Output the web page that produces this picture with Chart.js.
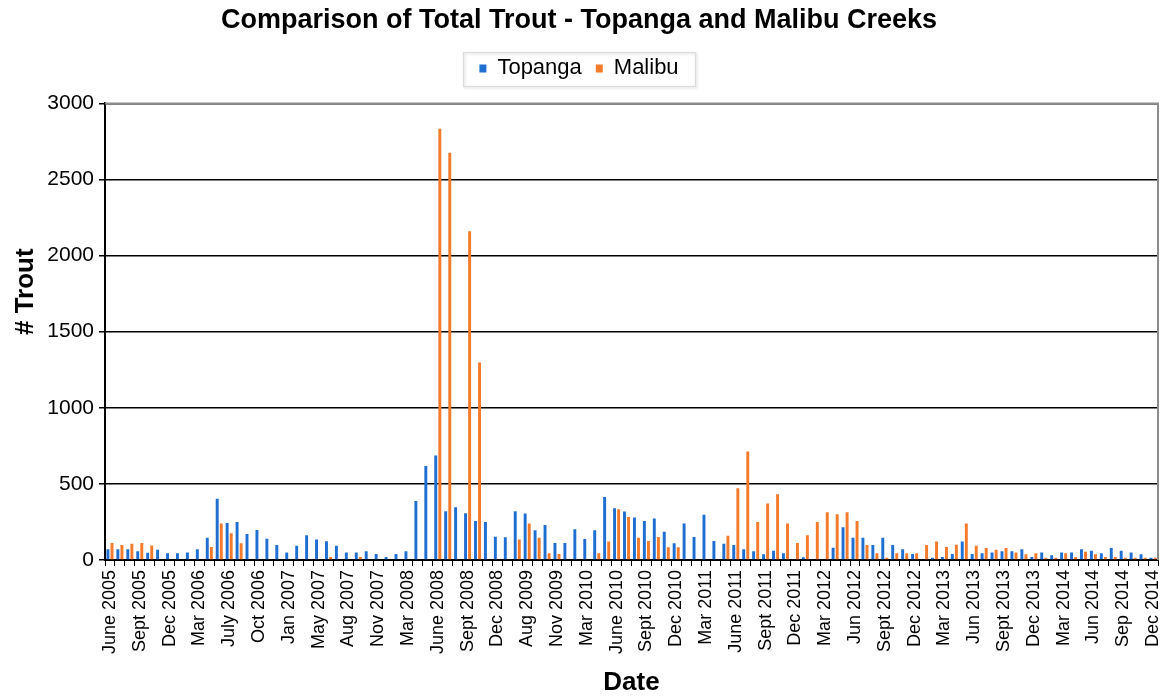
<!DOCTYPE html>
<html>
<head>
<meta charset="utf-8">
<script src="https://cdn.jsdelivr.net/npm/chart.js@4.4.1/dist/chart.umd.min.js"></script>
<style>
  html, body { margin: 0; padding: 0; background: #ffffff; }
  #wrap { width: 1166px; height: 698px; position: relative; }
</style>
</head>
<body>
<div id="wrap"><canvas id="c" width="1166" height="698"></canvas></div>
<script>
const categories = [
  "June 2005","July 2005","Aug 2005","Sept 2005","Oct 2005","Nov 2005",
  "Dec 2005","Jan 2006","Feb 2006","Mar 2006","Apr 2006","June 2006",
  "July 2006","Aug 2006","Sept 2006","Oct 2006","Nov 2006","Dec 2006",
  "Jan 2007","Feb 2007","Mar 2007","May 2007","June 2007","July 2007",
  "Aug 2007","Sept 2007","Oct 2007","Nov 2007","Dec 2007","Feb 2008",
  "Mar 2008","Apr 2008","May 2008","June 2008","July 2008","Aug 2008",
  "Sept 2008","Oct 2008","Nov 2008","Dec 2008","May 2009","June 2009",
  "Aug 2009","Sept 2009","Oct 2009","Nov 2009","Dec 2009","Feb 2010",
  "Mar 2010","Apr 2010","May 2010","June 2010","July 2010","Aug 2010",
  "Sept 2010","Oct 2010","Nov 2010","Dec 2010","Jan 2011","Feb 2011",
  "Mar 2011","Apr 2011","May 2011","June 2011","July 2011","Aug 2011",
  "Sept 2011","Oct 2011","Nov 2011","Dec 2011","Jan 2012","Feb 2012",
  "Mar 2012","Apr 2012","May 2012","Jun 2012","Jul 2012","Aug 2012",
  "Sept 2012","Oct 2012","Nov 2012","Dec 2012","Jan 2013","Feb 2013",
  "Mar 2013","Apr 2013","May 2013","Jun 2013","Jul 2013","Aug 2013",
  "Sept 2013","Oct 2013","Nov 2013","Dec 2013","Jan 2014","Feb 2014",
  "Mar 2014","Apr 2014","May 2014","Jun 2014","Jul 2014","Aug 2014",
  "Sep 2014","Oct 2014","Nov 2014","Dec 2014"
];

const topanga = [
  70, 70, 70, 57, 48, 68, 44, 44, 50, 70,
  147, 403, 243, 250, 171, 197, 140, 99, 50, 94,
  162, 134, 123, 94, 50, 50, 57, 39, 20, 39,
  57, 388, 618, 686, 320, 346, 307, 257, 250, 153,
  149, 320, 305, 195, 230, 112, 112, 202, 138, 195,
  414, 340, 318, 279, 257, 272, 186, 110, 239, 151,
  298, 125, 107, 99, 70, 57, 37, 61, 44, 0,
  18, 0, 5, 81, 215, 147, 147, 99, 147, 99,
  70, 39, 0, 15, 20, 39, 121, 39, 44, 50,
  57, 57, 70, 20, 50, 31, 50, 50, 70, 61,
  44, 79, 61, 50, 37, 15
];

const malibu = [
  112, 99, 107, 112, 96, 0, 0, 0, 0, 0,
  85, 239, 175, 110, 0, 0, 0, 0, 0, 0,
  0, 0, 20, 0, 0, 20, 0, 0, 0, 0,
  0, 0, 0, 2834, 2675, 0, 2160, 1298, 0, 0,
  0, 134, 239, 147, 44, 39, 0, 0, 0, 44,
  121, 333, 283, 147, 125, 151, 83, 83, 0, 0,
  0, 0, 160, 471, 713, 250, 371, 432, 239, 112,
  162, 250, 314, 300, 314, 257, 99, 44, 15, 44,
  44, 44, 99, 121, 85, 101, 239, 94, 79, 68,
  79, 50, 37, 44, 15, 15, 44, 20, 55, 37,
  20, 20, 15, 15, 15, 15
];

const yTicks = [0, 500, 1000, 1500, 2000, 2500, 3000];
const labelEvery = 3;

const FONT = "'Liberation Sans', Arial, sans-serif";

// empty spacer box between the legend and the plot area
const spacerPlugin = {
  id: 'spacer',
  beforeInit(chart) {
    const box = {
      position: 'top', weight: 500, fullSize: true,
      options: {},
      left: 0, top: 0, right: 0, bottom: 0, width: 0, height: 0,
      isHorizontal() { return true; },
      update(maxWidth) { this.width = maxWidth; this.height = 14; },
      draw() {}
    };
    Chart.layouts.addBox(chart, box);
  }
};

// y-axis title sits above the middle of the axis in the original
const yTitleShiftPlugin = {
  id: 'yTitleShift',
  afterLayout(chart) {
    const s = chart.scales.y;
    if (s._shiftWrapped) return;
    const orig = s.drawTitle;
    s.drawTitle = function() {
      const t = this.top;
      this.top = t - 80;
      orig.apply(this, arguments);
      this.top = t;
    };
    s._shiftWrapped = true;
  }
};

const legendBoxPlugin = {
  id: 'legendBox',
  afterDraw(chart) {
    const lg = chart.legend;
    if (!lg || !lg.legendHitBoxes || !lg.legendHitBoxes.length) return;
    let l = Infinity, r = -Infinity, t = Infinity, b = -Infinity;
    lg.legendHitBoxes.forEach(h => {
      l = Math.min(l, h.left); r = Math.max(r, h.left + h.width);
      t = Math.min(t, h.top); b = Math.max(b, h.top + h.height);
    });
    const ctx = chart.ctx;
    ctx.save();
    ctx.shadowColor = 'rgba(0,0,0,0.22)';
    ctx.shadowBlur = 3;
    ctx.shadowOffsetX = 1;
    ctx.shadowOffsetY = 1;
    ctx.strokeStyle = '#dcdcdc';
    ctx.lineWidth = 1;
    ctx.strokeRect(Math.round(l - 16) + 0.5, Math.round(t - 5) + 0.5, Math.round(r - l + 33), Math.round(b - t + 12));
    ctx.restore();
  }
};

const framePlugin = {
  id: 'frame',
  afterDatasetsDraw(chart) {
    const a = chart.chartArea;
    const ctx = chart.ctx;
    ctx.save();
    ctx.strokeStyle = '#8c8c8c';
    ctx.lineWidth = 2;
    ctx.beginPath();
    ctx.moveTo(a.left, a.top);
    ctx.lineTo(a.right, a.top);
    ctx.lineTo(a.right, a.bottom);
    ctx.stroke();
    ctx.restore();
  }
};

new Chart(document.getElementById('c'), {
  type: 'bar',
  data: {
    labels: categories,
    datasets: [
      { label: 'Topanga', data: topanga, backgroundColor: '#1f6fd2', borderWidth: 0,
        categoryPercentage: 0.82, barPercentage: 0.72 },
      { label: 'Malibu', data: malibu, backgroundColor: '#f47a2c', borderWidth: 0,
        categoryPercentage: 0.82, barPercentage: 0.72 }
    ]
  },
  options: {
    responsive: false,
    animation: false,
    devicePixelRatio: 1,
    layout: { padding: { left: 0, right: 8, top: 0, bottom: 0 } },
    plugins: {
      title: {
        display: true,
        text: 'Comparison of Total Trout - Topanga and Malibu Creeks',
        color: '#000',
        font: { family: FONT, size: 27, weight: 'bold' },
        padding: { top: 4, bottom: 7 }
      },
      legend: {
        display: true,
        position: 'top',
        labels: {
          color: '#000',
          font: { family: FONT, size: 22 },
          boxWidth: 7, boxHeight: 8,
          padding: 14
        }
      },
      tooltip: { enabled: false }
    },
    scales: {
      x: {
        afterFit: function(s) { s.height = 138; s.paddingLeft = 0; s.paddingRight = 0; },
        grid: { display: true, drawOnChartArea: false, drawTicks: true, tickLength: 6, color: '#000', offset: true },
        border: { display: true, color: '#000', width: 2 },
        ticks: {
          autoSkip: false, maxRotation: 90, minRotation: 90,
          color: '#000', font: { family: FONT, size: 18 }, padding: 4,
          callback: function(v, i) { return i % labelEvery === 0 ? categories[i] : ''; }
        },
        title: {
          display: true, text: 'Date', color: '#000',
          font: { family: FONT, size: 26, weight: 'bold' }, padding: { top: 0, bottom: 0 }
        }
      },
      y: {
        min: 0, max: 3000,
        afterFit: function(s) { s.width = 105; },
        afterBuildTicks: function(s) { s.ticks = yTicks.map(v => ({ value: v })); },
        grid: { color: '#000', lineWidth: 1.5, tickLength: 6 },
        border: { display: true, color: '#000', width: 2 },
        ticks: { color: '#000', font: { family: FONT, size: 21 }, padding: 5,
          callback: function(v) { return String(v); } },
        title: {
          display: true, text: '# Trout', color: '#000',
          font: { family: FONT, size: 26, weight: 'bold' }, padding: { top: 10, bottom: 0 }
        }
      }
    }
  },
  plugins: [spacerPlugin, yTitleShiftPlugin, legendBoxPlugin, framePlugin]
});
</script>
</body>
</html>
